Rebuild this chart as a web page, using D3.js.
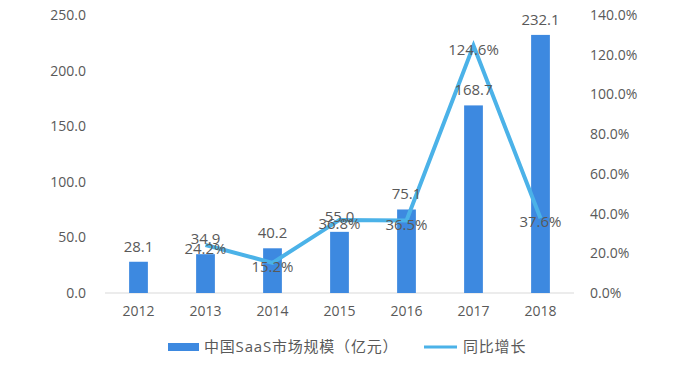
<!DOCTYPE html>
<html><head><meta charset="utf-8">
<script src="https://cdn.jsdelivr.net/npm/d3@7"></script>
<style>body{margin:0;background:#fff}svg{display:block}</style>
</head><body>
<svg id="c" width="692" height="368"></svg>
<script>
const years = ["2012","2013","2014","2015","2016","2017","2018"];
const marketSize = [28.1, 34.9, 40.2, 55.0, 75.1, 168.7, 232.1];
const growth = [null, 24.2, 15.2, 36.8, 36.5, 124.6, 37.6];
const leftTicks = [0, 50, 100, 150, 200, 250];
const rightTicks = [0, 20, 40, 60, 80, 100, 120, 140];
const seriesNames = ["中国SaaS市场规模（亿元）", "同比增长"];

const svg = d3.select("#c");
const font = "'Open Sans','Noto Sans CJK SC',sans-serif";
const textColor = "#595959";
const barColor = "#3d89e0";
const lineColor = "#4bb2e8";

const x = d3.scaleBand().domain(years).range([105, 574]).paddingInner(0.72).paddingOuter(0.36);
const yL = d3.scaleLinear().domain([0, 250]).range([293, 15]);
const yR = d3.scaleLinear().domain([0, 140]).range([293, 15]);

// baseline
svg.append("line").attr("x1", 105).attr("x2", 574).attr("y1", yL(0)).attr("y2", yL(0))
  .attr("stroke", "#d9d9d9").attr("stroke-width", 1);

// left axis
const gl = svg.append("g").attr("transform", "translate(86,0)")
  .call(d3.axisLeft(yL).tickValues(leftTicks).tickFormat(d3.format(".1f")).tickSize(0).tickPadding(0));
gl.select(".domain").remove();
gl.selectAll("text").attr("font-family", font).attr("font-size", 14).attr("fill", textColor);

// right axis
const gr = svg.append("g").attr("transform", "translate(590,0)")
  .call(d3.axisRight(yR).tickValues(rightTicks).tickFormat(d => d.toFixed(1) + "%").tickSize(0).tickPadding(0));
gr.select(".domain").remove();
gr.selectAll("text").attr("font-family", font).attr("font-size", 14).attr("fill", textColor);

// x axis
const gx = svg.append("g").attr("transform", "translate(0," + 293 + ")")
  .call(d3.axisBottom(x).tickSize(0).tickPadding(13));
gx.select(".domain").remove();
gx.selectAll("text").attr("font-family", font).attr("font-size", 14).attr("fill", textColor);

// bars
svg.append("g").selectAll("rect").data(years).join("rect")
  .attr("x", d => x(d)).attr("width", x.bandwidth())
  .attr("y", (d, i) => yL(marketSize[i])).attr("height", (d, i) => yL(0) - yL(marketSize[i]))
  .attr("fill", barColor);

// line
const pts = years.map((d, i) => ({ y: d, v: growth[i] })).filter(p => p.v != null);
const line = d3.line().x(p => x(p.y) + x.bandwidth() / 2).y(p => yR(p.v));
svg.append("path").datum(pts).attr("d", line).attr("fill", "none")
  .attr("stroke", lineColor).attr("stroke-width", 4).attr("stroke-linejoin", "miter");

// bar labels
svg.append("g").selectAll("text").data(years).join("text")
  .attr("x", d => x(d) + x.bandwidth() / 2).attr("y", (d, i) => yL(marketSize[i]) - 10)
  .attr("text-anchor", "middle").attr("font-family", font).attr("font-size", 15).attr("fill", textColor)
  .text((d, i) => marketSize[i].toFixed(1));

// line labels
svg.append("g").selectAll("text").data(pts).join("text")
  .attr("x", p => x(p.y) + x.bandwidth() / 2).attr("y", p => yR(p.v) + 9)
  .attr("text-anchor", "middle").attr("font-family", font).attr("font-size", 15).attr("fill", textColor)
  .text(p => p.v.toFixed(1) + "%");

// legend
const lg = svg.append("g");
lg.append("rect").attr("x", 168).attr("y", 343).attr("width", 31).attr("height", 8).attr("fill", barColor);
lg.append("text").attr("x", 204).attr("y", 352).attr("font-family", font).attr("font-size", 15)
  .attr("letter-spacing", 0.8).attr("fill", textColor).text(seriesNames[0]);
lg.append("line").attr("x1", 424).attr("x2", 457).attr("y1", 347).attr("y2", 347)
  .attr("stroke", lineColor).attr("stroke-width", 3);
lg.append("text").attr("x", 463).attr("y", 352).attr("font-family", font).attr("font-size", 15)
  .attr("letter-spacing", 0.8).attr("fill", textColor).text(seriesNames[1]);
</script>
</body></html>
